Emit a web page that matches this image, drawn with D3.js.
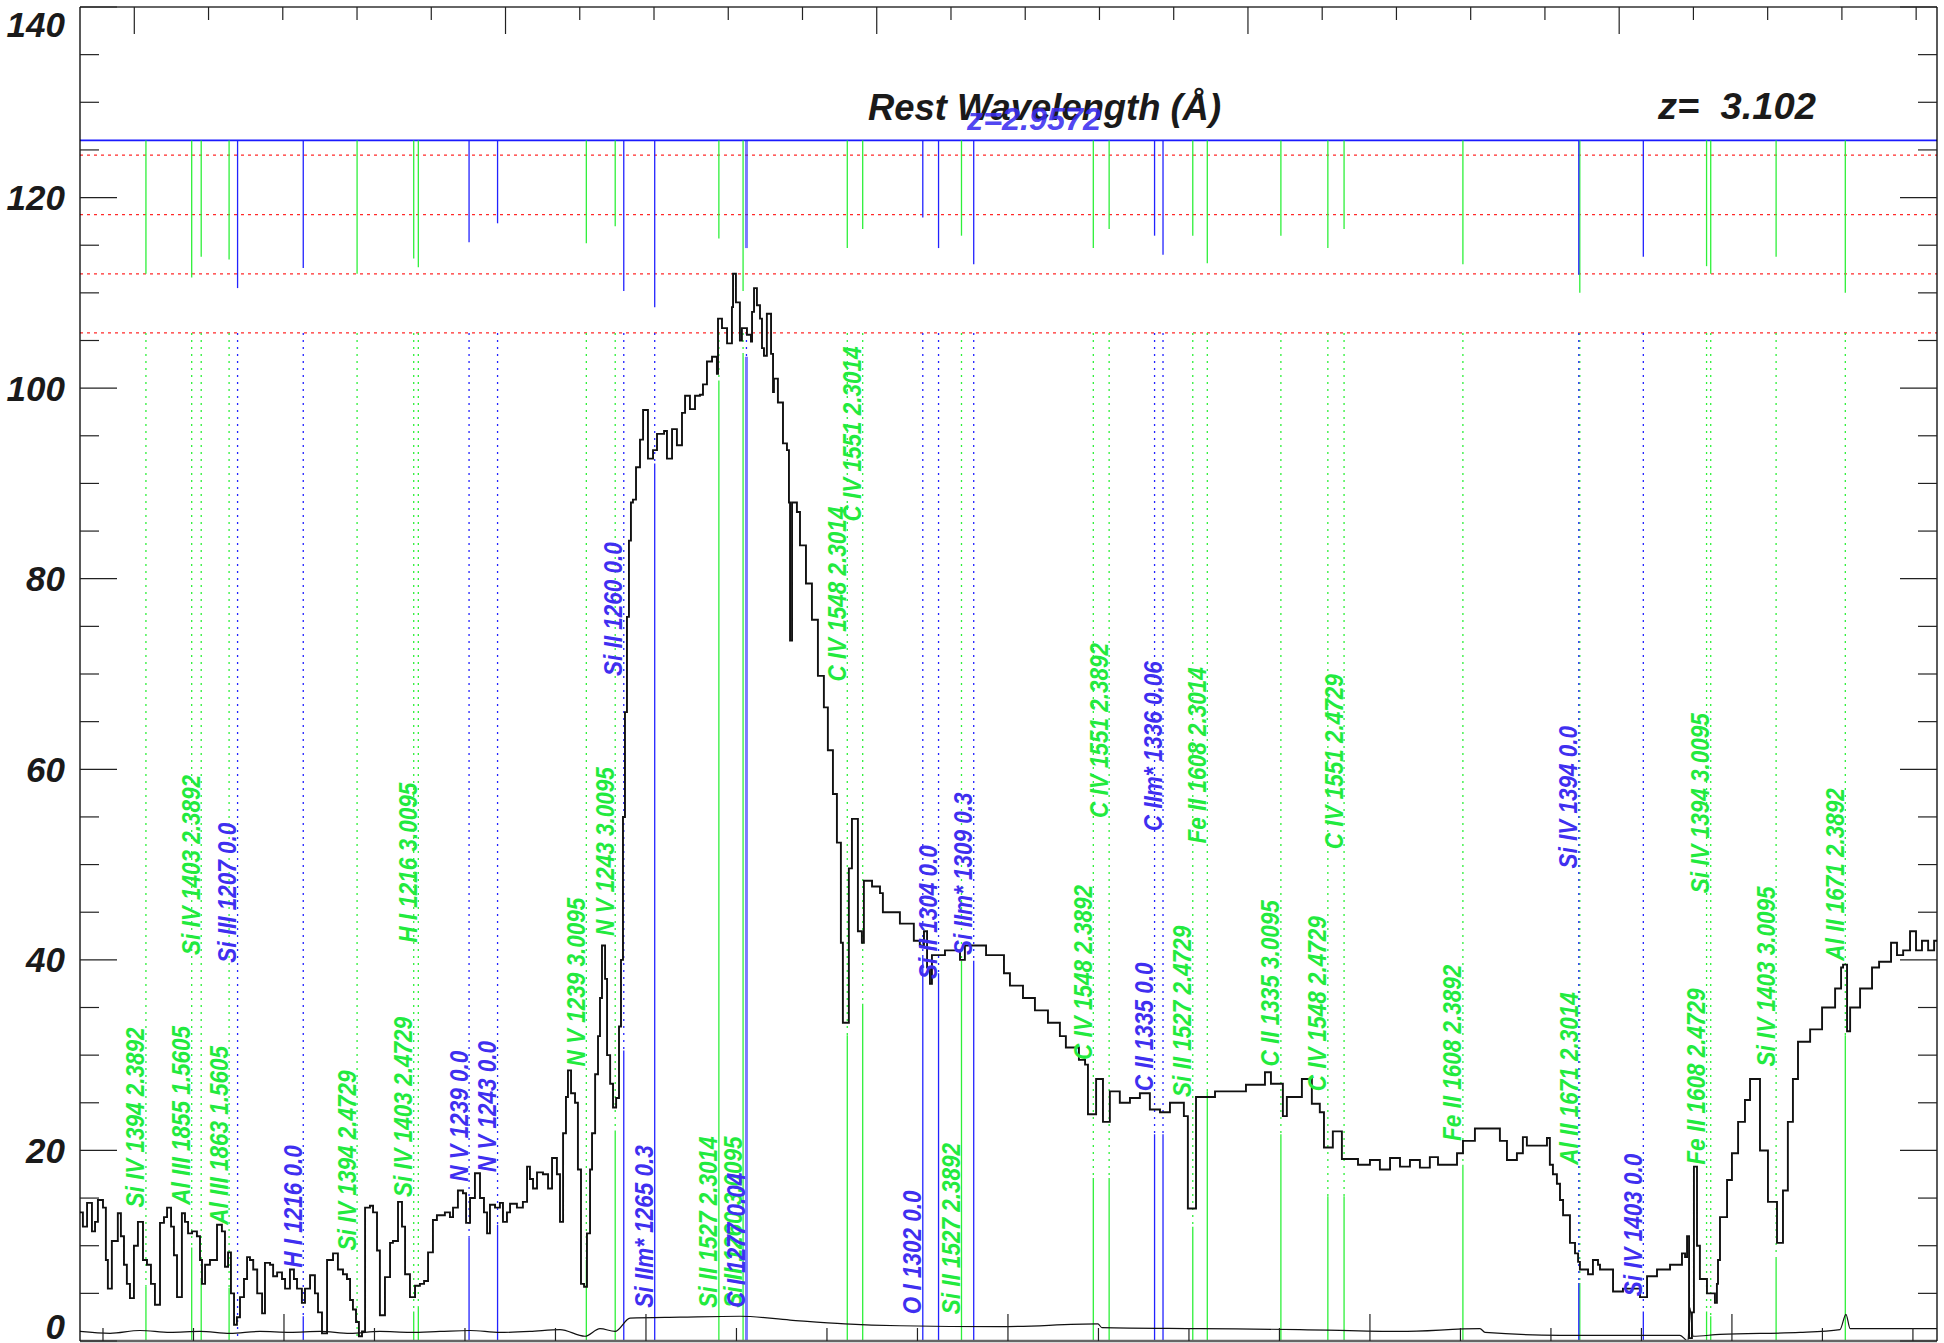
<!DOCTYPE html>
<html>
<head>
<meta charset="utf-8">
<script src="https://cdn.jsdelivr.net/npm/d3@7/dist/d3.min.js"></script>
<style>
  body { margin: 0; background: #fff; }
  svg { display: block; }
</style>
</head>
<body>
<svg id="chart" width="1944" height="1343"></svg>
<script>
const spectrum = [[4687.3,13.5],[4688.9,12.0],[4691.2,14.5],[4693.9,11.5],[4695.6,12.5],[4697.2,14.8],[4700.0,14.0],[4701.6,8.5],[4702.7,5.5],[4704.9,10.5],[4708.2,13.4],[4709.9,11.0],[4711.6,8.0],[4713.2,6.0],[4714.9,4.5],[4717.1,10.0],[4719.3,12.5],[4722.1,8.5],[4724.3,8.0],[4726.5,6.0],[4728.7,3.8],[4731.5,12.4],[4733.7,13.0],[4735.4,14.0],[4737.6,12.0],[4739.2,9.0],[4740.9,4.6],[4743.6,13.4],[4745.3,12.5],[4747.0,11.3],[4749.2,11.5],[4751.9,11.0],[4753.6,8.5],[4754.7,6.0],[4756.4,8.0],[4759.1,8.5],[4763.0,12.2],[4765.7,11.5],[4767.4,7.8],[4769.1,9.3],[4770.7,5.0],[4772.4,1.7],[4774.0,2.5],[4775.7,4.6],[4777.9,6.5],[4779.6,8.8],[4781.2,8.5],[4783.0,7.5],[4785.2,5.0],[4787.9,2.9],[4789.5,8.2],[4792.3,8.0],[4794.0,6.8],[4796.2,7.2],[4798.9,6.5],[4800.6,5.5],[4803.3,7.5],[4805.5,6.5],[4807.2,5.5],[4809.9,4.0],[4811.6,5.5],[4814.4,6.9],[4817.1,5.0],[4818.8,3.0],[4821.0,0.8],[4823.8,8.5],[4827.1,9.2],[4829.8,7.5],[4832.6,7.0],[4834.8,6.5],[4836.5,4.3],[4838.1,3.3],[4839.8,2.0],[4841.4,0.5],[4843.1,1.0],[4844.8,14.0],[4847.5,14.2],[4849.2,13.5],[4851.4,9.5],[4853.0,2.7],[4855.8,6.7],[4858.6,10.3],[4860.2,10.5],[4863.0,14.6],[4865.2,12.0],[4866.9,7.0],[4869.6,4.6],[4872.4,5.8],[4875.1,6.0],[4877.4,6.3],[4879.6,9.3],[4882.3,12.7],[4884.5,13.2],[4888.9,13.5],[4891.7,13.0],[4893.4,14.0],[4896.1,15.8],[4898.9,15.5],[4900.6,12.4],[4902.8,15.0],[4905.5,17.6],[4908.3,15.0],[4910.5,13.5],[4912.2,11.3],[4913.8,14.3],[4916.6,14.0],[4919.3,14.5],[4921.0,12.5],[4923.2,13.5],[4924.9,14.4],[4928.7,14.0],[4932.0,14.6],[4934.3,18.3],[4935.9,17.0],[4937.6,16.0],[4939.8,17.7],[4943.1,17.5],[4945.9,16.0],[4948.1,19.2],[4950.8,17.5],[4952.5,12.5],[4954.2,21.8],[4955.8,25.6],[4956.9,28.4],[4958.6,26.0],[4960.8,25.0],[4962.4,18.0],[4964.1,6.0],[4965.8,5.7],[4967.4,11.3],[4969.1,18.0],[4970.2,21.8],[4971.9,28.0],[4973.5,32.0],[4974.6,36.0],[4975.7,41.5],[4977.4,38.0],[4978.5,30.0],[4980.2,27.0],[4981.8,24.5],[4983.5,25.5],[4985.1,33.0],[4986.2,40.0],[4987.3,55.0],[4988.4,66.0],[4989.5,76.0],[4990.6,84.0],[4991.7,88.0],[4992.8,88.3],[4994.5,91.7],[4996.7,94.6],[4998.4,97.7],[5001.1,92.6],[5003.9,93.5],[5006.1,95.2],[5010.0,95.5],[5011.6,92.6],[5014.4,95.7],[5017.1,94.0],[5019.9,97.4],[5021.6,99.2],[5024.3,97.8],[5027.1,99.2],[5029.8,99.3],[5031.5,100.4],[5033.7,102.8],[5036.5,103.3],[5039.2,101.5],[5039.8,107.3],[5042.0,106.3],[5044.8,104.7],[5047.5,108.5],[5048.1,112.0],[5049.7,109.0],[5051.9,105.0],[5053.0,106.3],[5055.8,105.6],[5058.0,104.9],[5058.6,108.0],[5059.7,110.5],[5061.3,108.7],[5063.0,107.3],[5064.1,104.2],[5065.2,103.4],[5066.8,107.8],[5069.1,103.6],[5070.2,99.6],[5070.7,101.0],[5072.9,98.5],[5075.7,94.2],[5077.9,93.5],[5079.0,88.0],[5079.6,73.5],[5080.7,88.0],[5083.4,87.0],[5085.1,83.5],[5088.4,79.5],[5091.7,75.7],[5095.0,69.8],[5098.3,66.5],[5100.5,62.0],[5103.3,57.4],[5105.5,52.3],[5107.7,41.8],[5108.8,33.4],[5112.1,49.6],[5113.8,54.8],[5117.1,43.0],[5119.3,41.8],[5120.4,48.3],[5124.9,47.7],[5129.3,47.0],[5130.9,45.0],[5140.3,43.8],[5148.0,42.0],[5151.3,41.5],[5153.6,43.0],[5155.3,39.2],[5156.9,37.5],[5158.0,40.5],[5165.2,41.0],[5173.5,40.0],[5176.2,41.5],[5187.9,40.5],[5197.8,38.6],[5201.1,37.3],[5208.3,36.0],[5214.9,34.7],[5222.1,33.4],[5228.7,32.0],[5232.0,30.8],[5239.2,29.5],[5242.6,29.0],[5244.2,23.8],[5248.7,27.5],[5252.5,23.0],[5256.3,26.2],[5261.8,25.0],[5267.4,25.5],[5272.9,26.0],[5278.4,24.3],[5284.0,24.0],[5289.5,25.0],[5297.2,23.6],[5299.4,13.9],[5303.9,25.6],[5314.4,26.2],[5331.5,26.9],[5342.0,28.2],[5345.3,27.0],[5351.9,23.6],[5354.1,25.6],[5362.4,27.5],[5367.9,24.9],[5372.3,24.0],[5374.6,20.3],[5379.5,22.0],[5384.5,19.1],[5393.4,18.5],[5400.0,19.0],[5405.5,18.0],[5411.1,19.2],[5416.6,18.3],[5422.1,19.0],[5427.6,18.2],[5433.1,19.3],[5437.6,18.5],[5448.1,19.7],[5451.4,21.0],[5458.0,22.3],[5471.8,21.0],[5475.7,19.0],[5481.2,19.7],[5484.5,21.4],[5486.7,20.5],[5497.8,21.3],[5499.4,18.5],[5501.1,17.5],[5503.3,16.5],[5505.0,14.8],[5506.7,13.2],[5510.5,10.3],[5513.3,9.2],[5515.0,8.3],[5516.0,7.5],[5520.5,7.0],[5523.2,8.5],[5526.0,8.0],[5527.1,7.5],[5534.3,5.2],[5539.8,5.5],[5549.2,4.6],[5553.1,6.8],[5558.6,7.5],[5565.8,8.0],[5572.4,9.2],[5574.1,8.8],[5575.2,11.0],[5576.3,0.3],[5577.9,3.0],[5579.0,18.3],[5580.7,10.0],[5582.3,6.5],[5586.2,5.0],[5590.6,4.0],[5591.7,6.0],[5592.3,8.5],[5593.4,13.0],[5597.3,16.9],[5600.0,19.7],[5603.4,23.0],[5607.2,25.3],[5610.0,27.5],[5615.5,20.0],[5619.9,14.6],[5624.9,10.3],[5628.2,15.8],[5630.9,23.0],[5633.7,27.5],[5636.5,31.4],[5643.2,32.7],[5649.8,35.0],[5657.0,37.0],[5660.3,39.2],[5661.4,39.5],[5663.6,32.5],[5665.3,35.0],[5670.8,37.0],[5677.4,39.2],[5681.3,39.8],[5687.9,41.8],[5691.2,40.5],[5694.6,41.0],[5698.4,43.0],[5701.7,41.0],[5705.0,42.0],[5708.4,41.0],[5711.7,42.0],[5713.3,42.0]];

// error spectrum
const errSpectrum = [[4687.3,1.0],[4703.9,0.8],[4720.4,1.1],[4737.0,0.9],[4753.6,1.0],[4770.2,0.8],[4786.7,1.0],[4803.3,0.9],[4819.9,1.0],[4836.5,0.8],[4853.0,1.0],[4869.6,0.9],[4886.2,1.0],[4902.8,1.1],[4919.3,0.9],[4935.9,1.0],[4952.5,1.2],[4966.3,0.5],[4974.6,1.3],[4982.9,1.0],[4991.2,2.4],[5018.8,2.5],[5051.9,2.6],[5079.6,2.2],[5109.9,1.8],[5140.3,1.6],[5195.6,1.5],[5249.7,1.8],[5251.9,1.4],[5306.1,1.3],[5361.3,1.2],[5416.6,1.0],[5460.8,1.3],[5463.6,0.9],[5505.0,0.6],[5571.3,0.6],[5575.7,0.0],[5576.8,3.5],[5578.5,0.5],[5593.4,0.7],[5637.6,0.9],[5659.7,1.2],[5663.0,2.8],[5665.3,1.3],[5713.2,1.3]];

// absorption line identifications
const lineLabel = ["Si IV 1394 2.3892","Al III 1855 1.5605","Si IV 1403 2.3892","Al III 1863 1.5605","Si III 1207 0.0","H I 1216 0.0","Si IV 1394 2.4729","Si IV 1403 2.4729","H I 1216 3.0095","N V 1239 0.0","N V 1243 0.0","N V 1239 3.0095","N V 1243 3.0095","Si II 1260 0.0","Si IIm* 1265 0.3","Si II 1527 2.3014","Si II 1260 3.0095","C I 1277 0.04","C IV 1548 2.3014","C IV 1551 2.3014","O I 1302 0.0","Si II 1304 0.0","Si II 1527 2.3892","Si IIm* 1309 0.3","C IV 1548 2.3892","C IV 1551 2.3892","C II 1335 0.0","C IIm* 1336 0.06","Si II 1527 2.4729","Fe II 1608 2.3014","C II 1335 3.0095","C IV 1548 2.4729","C IV 1551 2.4729","Fe II 1608 2.3892","Al II 1671 2.3014","Si IV 1394 0.0","Si IV 1403 0.0","Fe II 1608 2.4729","Si IV 1394 3.0095","Si IV 1403 3.0095","Al II 1671 2.3892"];
const lineRest = [1393.76,1854.72,1402.77,1862.79,1206.50,1215.67,1393.76,1402.77,1215.67,1238.82,1242.80,1238.82,1242.80,1260.42,1264.74,1526.71,1260.42,1277.55,1548.20,1550.78,1302.17,1304.37,1526.71,1309.28,1548.20,1550.78,1334.53,1335.71,1526.71,1608.45,1334.53,1548.20,1550.78,1608.45,1670.79,1393.76,1402.77,1608.45,1393.76,1402.77,1670.79];
const lineZ = [2.3892,1.5605,2.3892,1.5605,2.9572,2.9572,2.4729,2.4729,3.0095,2.9572,2.9572,3.0095,3.0095,2.9572,2.9572,2.3014,3.0095,2.9572,2.3014,2.3014,2.9572,2.9572,2.3892,2.9572,2.3892,2.3892,2.9572,2.9572,2.4729,2.3014,3.0095,2.4729,2.4729,2.3892,2.3014,2.9572,2.9572,2.4729,3.0095,3.0095,2.3892];
const lineSystem = ["g","g","g","g","b","b","g","g","g","b","b","g","g","b","b","g","g","b","g","g","b","b","g","b","g","g","b","b","g","g","g","g","g","g","g","b","b","g","g","g","g"];
const lineTickEnd = [112.0,111.6,113.8,113.5,110.5,112.6,112.0,113.6,112.7,115.3,117.3,115.2,117.0,110.2,108.5,115.7,110.2,114.7,114.7,116.7,117.9,114.7,116.0,113.0,114.7,116.7,116.0,114.0,116.0,113.1,116.0,114.7,116.7,113.0,110.0,111.9,113.8,112.8,112.0,113.8,110.0];
const lineLabelAt = [14.0,14.3,40.5,12.2,39.7,7.7,9.5,15.1,41.8,16.7,17.7,28.8,42.5,69.8,3.5,3.5,3.5,3.5,69.2,86.0,2.8,38.0,2.8,40.5,29.5,54.9,26.2,53.5,25.6,52.2,28.8,26.2,51.6,21.0,18.5,49.6,4.7,18.5,47.0,28.8,39.9];
const lineSolidTop = [5.7,9.8,6.4,5.6,0,2.6,0,3.1,3.6,10.9,12.2,8.5,22.1,30.5,92.1,100.8,103.7,103.3,32.1,35.4,40.5,38.6,39.9,39.9,17.1,17.1,21.7,21.7,12.0,26.2,21.7,15.2,15.2,18.5,6.1,6.1,3.1,3.1,2.6,8.7,32.1];

const yLabels = [0, 20, 40, 60, 80, 100, 120, 140];
const markerLevel = 126.0;
const refLevels = [124.45, 118.2, 112.0, 105.8];
const zQso = 3.102;
const zAbs = 2.9572;

const W = 1944, H = 1343;
const margin = { top: 7, right: 7, bottom: 2, left: 80 };
const svg = d3.select('#chart');

const x = d3.scaleLinear().domain([4687.3, 5713.3]).range([margin.left, W - margin.right]);
const xRest = d3.scaleLinear().domain(x.domain().map(d => d / (1 + zQso))).range(x.range());
const y = d3.scaleLinear().domain([0, 140]).range([H - margin.bottom, margin.top]);

const green = '#2ef03a', greenText = '#22ea3e', blue = '#2222ff', blueText = '#3f2ff0';
const colorOf = s => s === 'g' ? green : blue;
const textColorOf = s => s === 'g' ? greenText : blueText;

svg.append('defs').append('clipPath').attr('id', 'plot')
  .append('rect').attr('x', x.range()[0]).attr('y', y.range()[1])
  .attr('width', x.range()[1] - x.range()[0]).attr('height', y.range()[0] - y.range()[1]);

const plot = svg.append('g').attr('clip-path', 'url(#plot)');

// reference levels
plot.selectAll('.ref').data(refLevels).enter().append('line')
  .attr('x1', x.range()[0]).attr('x2', x.range()[1])
  .attr('y1', d => y(d)).attr('y2', d => y(d))
  .attr('stroke', '#ff2a2a').attr('stroke-width', 1.3).attr('stroke-dasharray', '3,4');

plot.append('line')
  .attr('x1', x.range()[0]).attr('x2', x.range()[1])
  .attr('y1', y(markerLevel)).attr('y2', y(markerLevel))
  .attr('stroke', '#1a1aff').attr('stroke-width', 1.6);

// line markers
const lines = lineLabel.map((label, i) => ({
  label, obs: lineRest[i] * (1 + lineZ[i]), sys: lineSystem[i],
  tickEnd: lineTickEnd[i], labelAt: lineLabelAt[i], solidTop: lineSolidTop[i],
  wide: label.startsWith('C I ')
}));

const mk = plot.selectAll('.marker').data(lines).enter().append('g');
mk.append('line')
  .attr('x1', d => x(d.obs)).attr('x2', d => x(d.obs))
  .attr('y1', y(markerLevel)).attr('y2', d => y(d.tickEnd))
  .attr('stroke', d => colorOf(d.sys)).attr('stroke-width', d => d.wide ? 3 : 1.3)
  .attr('stroke-opacity', d => d.wide ? 0.6 : 1);
mk.append('line')
  .attr('x1', d => x(d.obs)).attr('x2', d => x(d.obs))
  .attr('y1', y(refLevels[3])).attr('y2', d => y(d.solidTop))
  .attr('stroke', d => colorOf(d.sys)).attr('stroke-width', 1.3)
  .attr('stroke-dasharray', '2,5');
mk.filter(d => d.solidTop > 0).append('line')
  .attr('x1', d => x(d.obs)).attr('x2', d => x(d.obs))
  .attr('y1', d => y(d.solidTop)).attr('y2', y(0))
  .attr('stroke', d => colorOf(d.sys)).attr('stroke-width', d => d.wide ? 3 : 1.3)
  .attr('stroke-opacity', d => d.wide ? 0.6 : 1);

// spectrum and error
plot.append('path').datum(errSpectrum)
  .attr('fill', 'none').attr('stroke', '#111').attr('stroke-width', 1.2)
  .attr('d', d3.line().x(d => x(d[0])).y(d => y(d[1])).curve(d3.curveMonotoneX));

plot.append('path').datum(spectrum)
  .attr('fill', 'none').attr('stroke', '#111').attr('stroke-width', 1.9)
  .attr('stroke-linejoin', 'miter')
  .attr('d', d3.line().x(d => x(d[0])).y(d => y(d[1])).curve(d3.curveStepAfter));

// labels: rotated, a little condensed along the text direction
plot.selectAll('.lbl').data(lines).enter().append('text')
  .attr('transform', d => `translate(${x(d.obs) - 1.5},${y(d.labelAt)}) rotate(-90) scale(0.9,1)`)
  .attr('font-family', '"Liberation Sans", Arial, sans-serif')
  .attr('font-style', 'italic').attr('font-weight', 'bold').attr('font-size', 25)
  .attr('fill', d => textColorOf(d.sys))
  .text(d => d.label);

// axes
const [x0, x1] = x.range();
const [yb, yt] = y.range();
const axis = svg.append('g');
axis.append('line').attr('x1', x0).attr('x2', x1).attr('y1', yt).attr('y2', yt).attr('stroke', '#666').attr('stroke-width', 2);
axis.append('line').attr('x1', x0).attr('x2', x1).attr('y1', yb).attr('y2', yb).attr('stroke', '#666').attr('stroke-width', 2.5);
axis.append('line').attr('x1', x0).attr('x2', x0).attr('y1', yt).attr('y2', yb).attr('stroke', '#000').attr('stroke-width', 1.3);
axis.append('line').attr('x1', x1).attr('x2', x1).attr('y1', yt).attr('y2', yb).attr('stroke', '#000').attr('stroke-width', 1.3);

const yTicks = d3.range(0, 141, 5);
axis.selectAll('.yl').data(yTicks).enter().append('line')
  .attr('x1', x0).attr('x2', d => x0 + (d % 20 === 0 ? 37 : 19))
  .attr('y1', d => y(d)).attr('y2', d => y(d)).attr('stroke', '#222').attr('stroke-width', 1.2);
axis.selectAll('.yr').data(yTicks).enter().append('line')
  .attr('x1', x1).attr('x2', d => x1 - (d % 20 === 0 ? 37 : 19))
  .attr('y1', d => y(d)).attr('y2', d => y(d)).attr('stroke', '#222').attr('stroke-width', 1.2);

const bTicks = d3.range(4700, x.domain()[1], 50);
axis.selectAll('.xb').data(bTicks).enter().append('line')
  .attr('x1', d => x(d)).attr('x2', d => x(d))
  .attr('y1', yb).attr('y2', d => yb - (d % 200 === 0 ? 27 : 13))
  .attr('stroke', '#222').attr('stroke-width', 1.2);
const tTicks = d3.range(1150, xRest.domain()[1], 10);
axis.selectAll('.xt').data(tTicks).enter().append('line')
  .attr('x1', d => xRest(d)).attr('x2', d => xRest(d))
  .attr('y1', yt).attr('y2', d => yt + (d % 50 === 0 ? 27 : 13))
  .attr('stroke', '#222').attr('stroke-width', 1.2);

axis.selectAll('.ylab').data(yLabels).enter().append('text')
  .attr('x', 65)
  .attr('y', d => Math.max(yt + 30, Math.min(yb - 2, y(d) + 12.5)))
  .attr('text-anchor', 'end')
  .attr('font-family', '"Liberation Sans", Arial, sans-serif')
  .attr('font-weight', 'bold').attr('font-style', 'italic').attr('font-size', 35)
  .attr('fill', '#1a1a1a')
  .text(d => d);

// titles
const txt = svg.append('g').attr('font-family', '"Liberation Sans", Arial, sans-serif')
  .attr('font-weight', 'bold').attr('font-style', 'italic');
txt.append('text').attr('x', 868).attr('y', 120).attr('font-size', 37)
  .attr('textLength', 353).attr('lengthAdjust', 'spacingAndGlyphs')
  .attr('fill', '#1a1a1a').text('Rest Wavelength (Å)');
txt.append('text').attr('x', 1658).attr('y', 119).attr('font-size', 36)
  .attr('textLength', 158).attr('lengthAdjust', 'spacingAndGlyphs')
  .attr('fill', '#1a1a1a').attr('xml:space', 'preserve').text('z=  3.102');
txt.append('text').attr('x', 967).attr('y', 130).attr('font-size', 31)
  .attr('textLength', 134).attr('lengthAdjust', 'spacingAndGlyphs')
  .attr('fill', '#3a2df0').attr('fill-opacity', 0.9).text('z=' + zAbs);
</script>
</body>
</html>
